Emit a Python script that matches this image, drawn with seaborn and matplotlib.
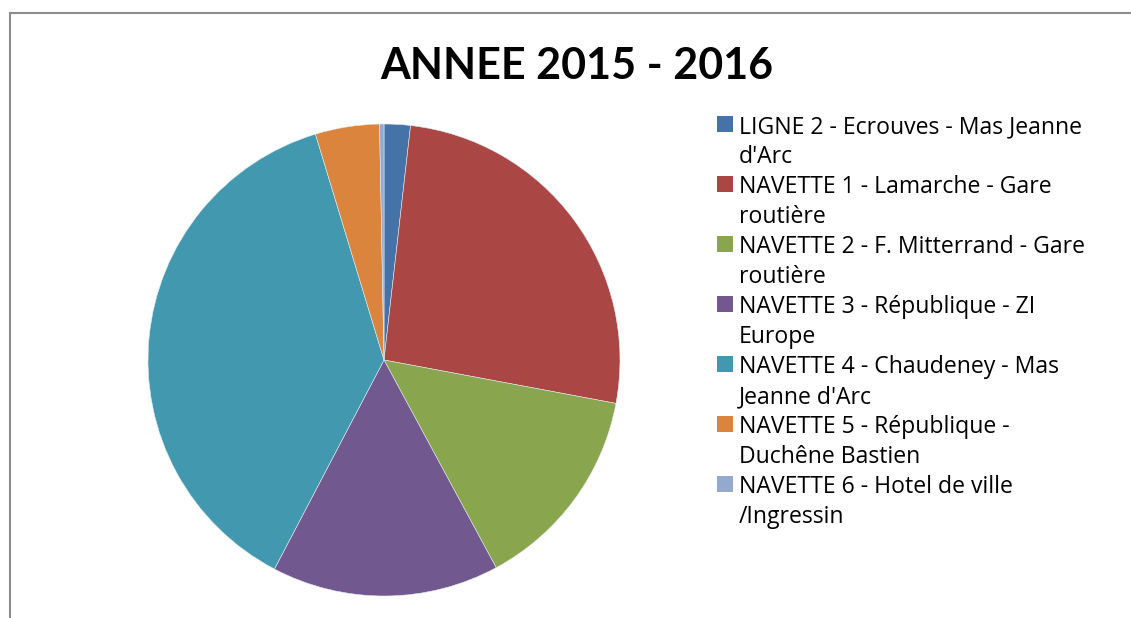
import matplotlib
matplotlib.use("Agg")
import matplotlib.pyplot as plt
from matplotlib.patches import Rectangle
import seaborn as sns

# share of each line (percent)
LINES = [
    "LIGNE 2 - Ecrouves - Mas Jeanne\nd'Arc",
    "NAVETTE 1 - Lamarche - Gare\nroutière",
    "NAVETTE 2 - F. Mitterrand - Gare\nroutière",
    "NAVETTE 3 - République - ZI\nEurope",
    "NAVETTE 4 - Chaudeney - Mas\nJeanne d'Arc",
    "NAVETTE 5 - République -\nDuchêne Bastien",
    "NAVETTE 6 - Hotel de ville\n/Ingressin",
]
SHARES = [1.8, 26.2, 14.2, 15.6, 37.7, 4.4, 0.3]
COLORS = ["#4572A7", "#AA4643", "#89A54E", "#71588F", "#4198AF", "#DB843D", "#93A9CF"]
TITLE = "ANNEE 2015 - 2016"

W, H = 1131, 618

sns.set_theme(style="white")
plt.rcParams["font.family"] = ["Lato", "DejaVu Sans"]

fig = plt.figure(figsize=(W / 100, H / 100), dpi=100)

# chart frame, bottom and right edges fall outside the picture
fig.add_artist(Rectangle((10 / W, -0.1), 1.2, 1.1 - 13 / H, transform=fig.transFigure,
                         fill=False, edgecolor="#8c8c8c", linewidth=1.5))

cx, cy, r = 384, 360, 236
ax = fig.add_axes([(cx - r) / W, (H - cy - r) / H, 2 * r / W, 2 * r / H])
ax.pie(SHARES, colors=COLORS, startangle=90, counterclock=False, radius=1,
       wedgeprops=dict(edgecolor="#e4e9f0", linewidth=0.4))
ax.set_xlim(-1, 1)
ax.set_ylim(-1, 1)
ax.set_aspect("equal")
ax.axis("off")

fig.text(577 / W, 1 - 66 / H, TITLE, ha="center", va="center",
         fontsize=31, fontweight="bold", color="black")

# legend, one row every 30 px
y = 124
for label, color in zip(LINES, COLORS):
    fig.add_artist(Rectangle((717 / W, 1 - (y + 8) / H), 16 / W, 16 / H,
                             transform=fig.transFigure, facecolor=color, edgecolor="none"))
    for line in label.split("\n"):
        fig.text(739 / W, 1 - y / H, line, ha="left", va="center_baseline",
                 fontsize=16.6, color="black", family=["Open Sans", "DejaVu Sans"])
        y += 30

fig.savefig("out.png", dpi=100)
